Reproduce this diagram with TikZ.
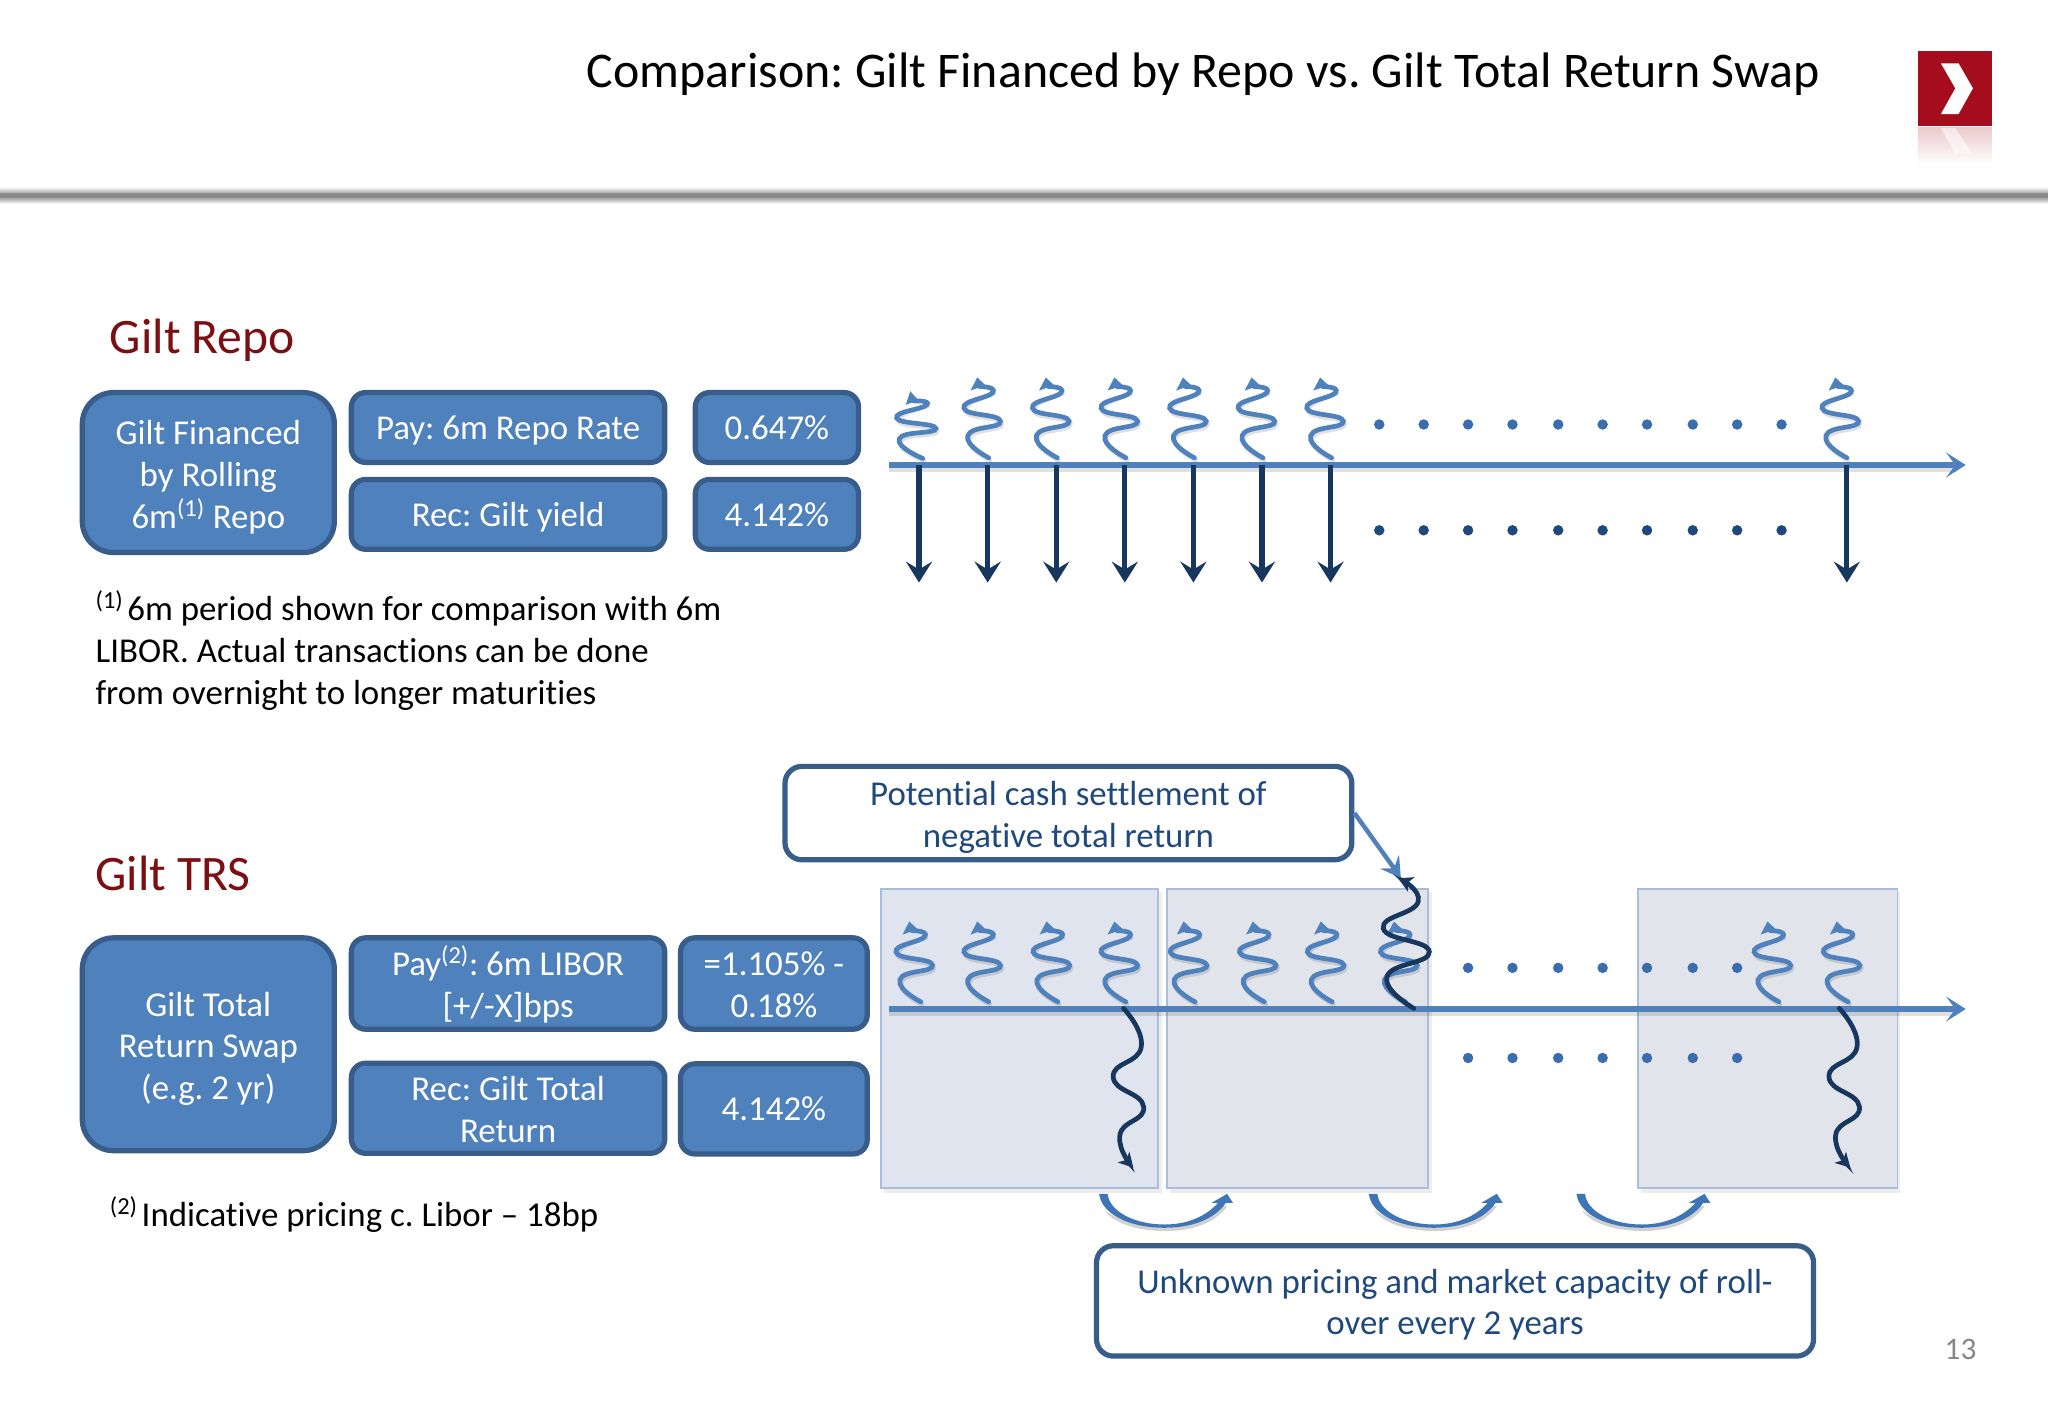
\documentclass[tikz,border=0pt]{standalone}
\usepackage{fontspec}
\setmainfont{Carlito}[Ligatures=NoCommon]
\AtBeginDocument{\frenchspacing}
\usetikzlibrary{arrows.meta}
\definecolor{bfill}{HTML}{4F81BD}
\definecolor{bline}{HTML}{385D8A}
\definecolor{navy}{HTML}{17375E}
\definecolor{calltext}{HTML}{1F497D}
\definecolor{headred}{HTML}{7B0F12}
\definecolor{logored}{HTML}{A50D1C}
\definecolor{panelA}{HTML}{DFE4EE}
\definecolor{panelB}{HTML}{E1E5EB}
\definecolor{panelline}{HTML}{A9BEDA}
\definecolor{dotblue}{HTML}{3A6CAE}
\definecolor{rollblue}{HTML}{3E75B5}
\newcommand\bodyfont{\fontsize{26.7}{32}\selectfont}
\newcommand\topstrut{\rule{0pt}{27pt}}
\newcommand\botstrut{\rule[-9pt]{0pt}{9pt}}
\newcommand\twolines[1]{\raisebox{6pt}[0pt][0pt]{\begin{tabular}[t]{@{}c@{}}#1\end{tabular}}}
\newcommand\threelines[1]{\raisebox{21.5pt}[0pt][0pt]{\begin{tabular}[t]{@{}c@{}}#1\end{tabular}}}
\tikzset{
  bluebox/.style={draw=bline,fill=bfill,line width=4pt,rounded corners=11pt,text=white,
    font=\bodyfont,inner sep=0pt},
  onebox/.style={bluebox,execute at begin node=\topstrut,execute at end node=\botstrut},
  bigbox/.style={bluebox,rounded corners=24pt},
  callbox/.style={draw=bline,fill=white,line width=4pt,rounded corners=13pt,text=calltext,
    font=\bodyfont,inner sep=0pt},
  heading/.style={text=headred,font=\fontsize{38}{42}\selectfont,anchor=base west,inner sep=0pt},
  note/.style={text=black,font=\bodyfont,align=left,anchor=west,inner sep=0pt},
  panel/.style={draw=panelline,line width=1.3pt},
  timeline/.style={draw=bfill,line width=4.4pt,-{Stealth[length=15pt,width=19pt,inset=7pt]}},
  wavyline/.style={draw=bfill,line width=3.6pt,line cap=round},
  wavydark/.style={draw=navy,line width=3.6pt,line cap=round,-{Stealth[length=11pt,width=12pt,inset=3pt]}},
  downarrow/.style={draw=navy,line width=4pt,-{Stealth[length=16pt,width=20pt,inset=6pt]}},
  softshadow/.style={draw=black,opacity=.12,line width=3.5pt,line cap=round},
}
\newcommand\squigtall[2]{%
  \begin{scope}[shift={(#1,#2)}]
    \draw[softshadow] plot[smooth,tension=1] coordinates {(1,2)(-15,-15)(10,-26)(-18,-36)(4,-49)};
    \draw[wavyline] plot[smooth,tension=1] coordinates {(0,0)(-16,-17)(9,-28)(-19,-38)(3,-50)(-6.8,-54.5)};
    \fill[bfill] (-8.8,-61.5) -- (-14,-51.5) -- (-6.8,-54) -- (-2.5,-55.6) -- cycle;
  \end{scope}}
\newcommand\squigshort[2]{%
  \begin{scope}[shift={(#1,#2)}]
    \draw[softshadow] plot[smooth,tension=1] coordinates {(1,2)(-17,-13)(11,-21)(-19,-29)(4,-40)};
    \draw[wavyline] plot[smooth,tension=1] coordinates {(0,0)(-18,-15)(10,-23)(-20,-31)(3,-41)(-6.8,-44)};
    \fill[bfill] (-9.6,-51.5) -- (-13,-41) -- (-6.8,-43.4) -- (-3.5,-44.7) -- cycle;
  \end{scope}}
\newcommand\rollarrow[2]{%
  \begin{scope}[shift={(#1,#2)}]
    \fill[black,opacity=.18,shift={(1,2.5)}] (3,10) .. controls (10,20) and (28,26) .. (50,26) .. controls (70,26) and (88,20) .. (97,7) -- (90,7) .. controls (80,17) and (68,23.5) .. (50,23.5) .. controls (28,23.5) and (12,16) .. (3,10) -- cycle;
    \fill[rollblue] (0,0) .. controls (2,16) and (24,26) .. (50,26) .. controls (70,26) and (88,20) .. (97,7) -- (102.5,7) -- (98,0) -- (86,7) -- (91,7) .. controls (82,17) and (68,23.5) .. (50,23.5) .. controls (28,23.5) and (8,14) .. (6.5,0) -- cycle;
  \end{scope}}
\begin{document}
\begin{tikzpicture}[x=1pt,y=-1pt]
\useasboundingbox (0,0) rectangle (1568,1082.6);
\fill[white] (0,0) rectangle (1568,1082.6);
% header rule
\shade[top color=white,bottom color=black!35] (0,143) rectangle (1568,148);
\fill[black!45] (0,148) rectangle (1568,150.5);
\shade[top color=black!45,bottom color=white] (0,150.5) rectangle (1568,156);
\node[anchor=base east,inner sep=0pt,font=\fontsize{38.2}{42}\selectfont,text=black] (title) at (1393.5,67) {Comparison: Gilt Financed by Repo vs. Gilt Total Return Swap};
% logo
\shade[top color=logored!22,bottom color=white] (1468.4,97.5) rectangle (1525,126);
\fill[white,opacity=.55] (1486,98) -- (1497,98) -- (1510.5,118) -- (1497,118) -- cycle;
\fill[logored] (1468.4,39) rectangle (1525,96.2);
\fill[white] (1486,48.5) -- (1499.5,48.5) -- (1510.5,67.6) -- (1499.5,87.3) -- (1486,87.3) -- (1497,67.6) -- cycle;
% repo section
\node[heading] (repohead) at (84,271) {Gilt Repo};
\node[bigbox,minimum width=193pt,minimum height=122.5pt] (repomain) at (159.5,361.8) {\threelines{Gilt Financed\\by Rolling\\6m\textsuperscript{(1)} Repo}};
\node[onebox,minimum width=240pt,minimum height=53.5pt] (repopay) at (389,327.3) {Pay: 6m Repo Rate};
\node[onebox,minimum width=240pt,minimum height=53.5pt] (reporec) at (389,393.8) {Rec: Gilt yield};
\node[onebox,minimum width=125pt,minimum height=53.5pt] (repopayv) at (594.8,327.3) {0.647\%};
\node[onebox,minimum width=125pt,minimum height=53.5pt] (reporecv) at (594.8,393.8) {4.142\%};
\node[note] (reponote) at (73,498) {\textsuperscript{(1)}\kern3pt 6m period shown for comparison with 6m\\LIBOR. Actual transactions can be done\\from overnight to longer maturities};
% repo timeline
\coordinate (repostart) at (681,356);
\coordinate (repoend) at (1505,356);
\foreach \dx in {1056,1090,1124,1158,1193,1227,1261,1296,1330,1364}{
  \fill[dotblue] (\dx,325) circle (4pt);
  \fill[calltext] (\dx,406) circle (4pt);
}
\squigshort{706.5}{351}
\foreach \dx in {757,809.5,862,914.5,967,1019.5,1414}{\squigtall{\dx}{350.5}}
\draw[black,opacity=.12,line width=3pt] (681,359.5) -- (1498,359.5);
\draw[timeline] (repostart) -- (repoend);
\foreach \dx in {703.6,756.2,808.7,861.2,913.7,966.2,1018.7,1414}{
  \coordinate (from) at (\dx,356);
  \coordinate (to) at (\dx,446);
  \draw[downarrow] (from) -- (to);
}
% TRS section
\node[heading] (trshead) at (73,682) {Gilt TRS};
\node[bigbox,minimum width=193pt,minimum height=163pt] (trsmain) at (159.5,799.5) {\threelines{Gilt Total\\Return Swap\\(e.g. 2 yr)}};
\node[bluebox,minimum width=240pt,minimum height=70pt] (trspay) at (389,753) {\twolines{Pay\textsuperscript{(2)}: 6m LIBOR\\{}[+/-X]bps}};
\node[bluebox,minimum width=240pt,minimum height=69pt] (trsrec) at (389,848.5) {\twolines{Rec: Gilt Total\\Return}};
\node[bluebox,minimum width=143pt,minimum height=70pt] (trspayv) at (592.5,753) {\twolines{=1.105\% -\\0.18\%}};
\node[onebox,minimum width=143pt,minimum height=69pt] (trsrecv) at (592.5,849) {4.142\%};
\node[note,anchor=base west] (trsnote) at (84,939) {\textsuperscript{(2)}\kern3pt Indicative pricing c. Libor – 18bp};
% panels
\fill[black,opacity=.07] (677,683) rectangle (890,913);
\fill[black,opacity=.07] (896,683) rectangle (1096,913);
\fill[black,opacity=.07] (1256,683) rectangle (1455,913);
\node[panel,fill=panelA,minimum width=212pt,minimum height=229pt,inner sep=0pt,anchor=north west] (panelone) at (674,680) {};
\node[panel,fill=panelB,minimum width=200pt,minimum height=229pt,inner sep=0pt,anchor=north west] (paneltwo) at (892.7,680) {};
\node[panel,fill=panelB,minimum width=199pt,minimum height=229pt,inner sep=0pt,anchor=north west] (panelthree) at (1253.2,680) {};
% TRS timeline
\coordinate (trsstart) at (681,772.5);
\coordinate (trsend) at (1505,772.5);
\foreach \dx in {1124,1158,1193,1227,1261,1296,1330}{
  \fill[dotblue] (\dx,741) circle (4pt);
  \fill[dotblue] (\dx,810) circle (4pt);
}
\foreach \dx in {705,757,810,862,915,968,1020,1076,1362,1415}{\squigtall{\dx}{767}}
\draw[black,opacity=.12,line width=3pt] (681,776) -- (1498,776);
\draw[timeline] (trsstart) -- (trsend);
\draw[wavydark] plot[smooth,tension=.9] coordinates {(860.2,772)(873.8,801.4)(852.3,824.4)(875.6,847.4)(857.4,869)(867.7,894)};
\draw[wavydark] plot[smooth,tension=.9] coordinates {(1408.2,772)(1421.8,801.4)(1400.3,824.4)(1423.6,847.4)(1405.4,869)(1416.7,894)};
\draw[wavydark] plot[smooth,tension=.9] coordinates {(1082.4,772)(1061.9,747.8)(1094.3,728.7)(1059.1,710.8)(1085.8,690.4)(1070.4,672.5)};
% callouts
\node[callbox,minimum width=434pt,minimum height=71.5pt] (callcash) at (818,622.5) {\twolines{Potential cash settlement of\\negative total return}};
\coordinate (cashtip) at (1072.5,672);
\draw[draw=bfill,line width=3.4pt,-{Stealth[length=15pt,width=18pt,inset=6pt]}] (callcash.east) -- (cashtip);
\node[callbox,minimum width=549pt,minimum height=84.5pt] (callroll) at (1114,996) {\twolines{Unknown pricing and market capacity of roll-\\over every 2 years}};
\rollarrow{841.5}{914}
\rollarrow{1048}{914}
\rollarrow{1207}{914}
\node[anchor=center,inner sep=0pt,text=black!47,font=\fontsize{24}{28}\selectfont] (pagenum) at (1501,1033) {13};
\end{tikzpicture}
\end{document}
